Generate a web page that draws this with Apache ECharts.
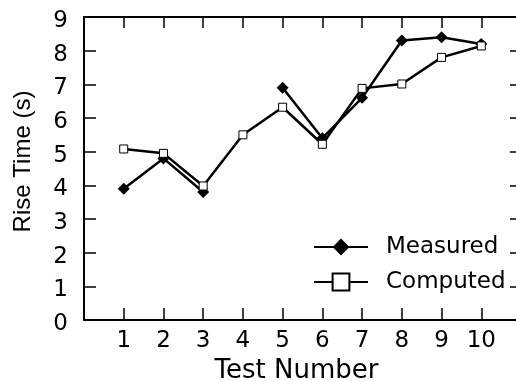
<!DOCTYPE html>
<html>
<head>
<meta charset="utf-8">
<style>
  html, body { margin: 0; padding: 0; background: #ffffff; }
  #chart { width: 516px; height: 381px; }
</style>
<script src="https://cdn.jsdelivr.net/npm/echarts@6/dist/echarts.min.js"></script>
</head>
<body>
<div id="chart"></div>
<script>
const testNumbers = [1, 2, 3, 4, 5, 6, 7, 8, 9, 10];
const measured = [3.9, 4.8, 3.8, null, 6.9, 5.4, 6.6, 8.3, 8.4, 8.2];
const computed = [5.08, 4.95, 3.98, 5.5, 6.32, 5.22, 6.88, 7.01, 7.8, 8.14];
const seriesNames = ['Measured', 'Computed'];
const xTitle = 'Test Number';
const yTitle = 'Rise Time (s)';

const pairs = (vals) => testNumbers.map((x, i) => [x, vals[i]]);

const chart = echarts.init(document.getElementById('chart'), null, { renderer: 'canvas' });
const hFont = 'DejaVu Sans';
const frameLine = { show: true, onZero: false, lineStyle: { color: '#000', width: 2 } };
const tickIn = (len) => ({ show: true, inside: true, length: len, lineStyle: { color: '#000', width: 1.5 } });

chart.setOption({
  animation: false,
  backgroundColor: '#ffffff',
  grid: { left: 84, top: 17, width: 437, height: 303, containLabel: false, outerBoundsMode: 'none' },
  legend: {
    orient: 'vertical',
    left: 308,
    top: 230,
    itemWidth: 54,
    itemHeight: 21,
    itemGap: 11,
    data: seriesNames,
    textStyle: { fontFamily: hFont, fontSize: 23, color: '#000', lineHeight: 24, padding: [0, 0, 0, 13] }
  },
  xAxis: [
    {
      type: 'value', min: 0, max: 11, interval: 1,
      axisLine: frameLine, axisTick: tickIn(12), splitLine: { show: false },
      axisLabel: {
        show: true, margin: 10, color: '#000', fontFamily: hFont, fontSize: 23,
        showMinLabel: false, showMaxLabel: false,
        formatter: (v) => (v >= 1 && v <= 10 ? String(v) : '')
      },
      name: xTitle, nameLocation: 'middle', nameGap: 34,
      nameTextStyle: { fontFamily: hFont, fontSize: 26, color: '#000', padding: [0, 12, 0, 0] }
    },
    {
      type: 'value', position: 'top', min: 0, max: 11, interval: 1,
      axisLine: frameLine, axisTick: tickIn(11), axisLabel: { show: false }, splitLine: { show: false }
    }
  ],
  yAxis: [
    {
      type: 'value', min: 0, max: 9, interval: 1,
      axisLine: frameLine, axisTick: tickIn(12), splitLine: { show: false },
      axisLabel: { show: true, margin: 16, color: '#000', fontFamily: hFont, fontSize: 23, verticalAlign: 'top', lineHeight: 8 },
      name: yTitle, nameLocation: 'middle', nameGap: 49, nameRotate: 90,
      nameTextStyle: { fontFamily: 'Liberation Sans', fontSize: 24, color: '#000', padding: [0, 0, 0, 14] }
    },
    {
      type: 'value', position: 'right', min: 0, max: 9, interval: 1,
      axisLine: frameLine, axisTick: tickIn(11), axisLabel: { show: false }, splitLine: { show: false }
    }
  ],
  series: [
    {
      name: seriesNames[0], type: 'line', data: pairs(measured), connectNulls: false,
      symbol: 'diamond', symbolSize: 12, showAllSymbol: true,
      lineStyle: { color: '#000', width: 2.5 },
      itemStyle: { color: '#000', borderColor: '#000', borderWidth: 0 }
    },
    {
      name: seriesNames[1], type: 'line', data: pairs(computed),
      symbol: 'rect', symbolSize: 8, showAllSymbol: true,
      lineStyle: { color: '#000', width: 2.5 },
      itemStyle: { color: '#fff', borderColor: '#000', borderWidth: 1 }
    }
  ]
});
</script>
</body>
</html>
